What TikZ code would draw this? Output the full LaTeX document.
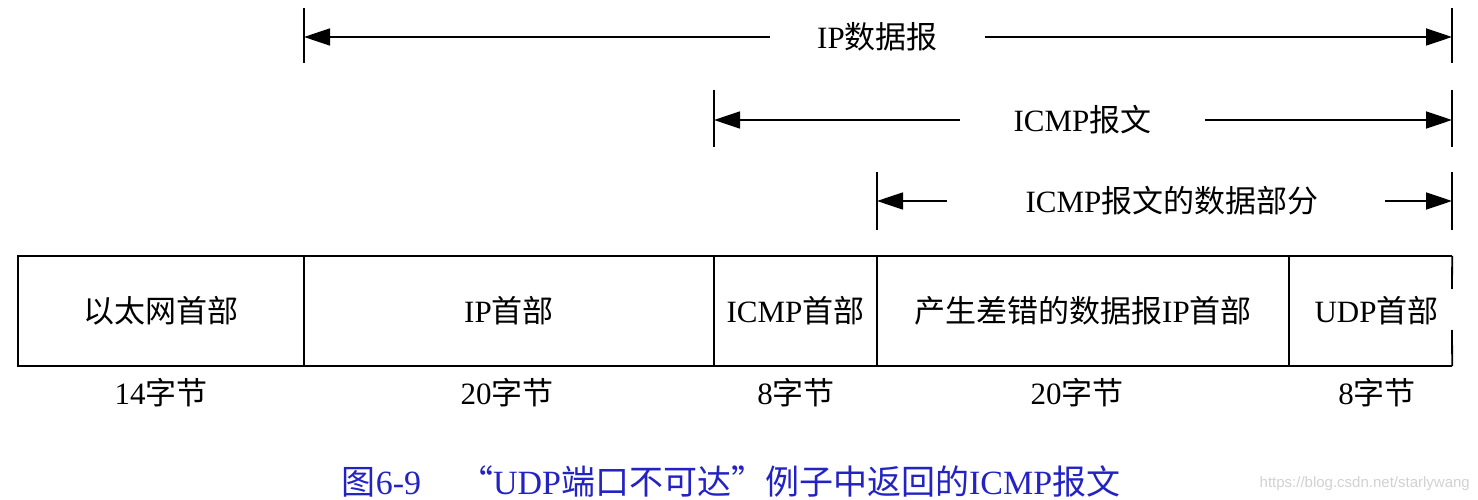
\documentclass[tikz,border=0pt]{standalone}
\usepackage{fontspec}
\setmainfont{Liberation Serif}
\newfontfamily\cjk{Noto Sans CJK SC}
\newfontfamily\wm{Liberation Sans}
\usetikzlibrary{arrows.meta}
\definecolor{capblue}{RGB}{35,35,195}
\begin{document}
\begin{tikzpicture}[x=1pt,y=-1pt,
  every node/.style={inner sep=0pt, font=\fontsize{31}{36}\selectfont},
  cell/.style={draw, line width=1.8pt, minimum height=110pt},
  tick/.style={line width=2.2pt},
  arr/.style={line width=1.8pt, -{Triangle[length=26pt,width=17pt]}},
  lab/.style={minimum height=30pt}]
\useasboundingbox (0,0) rectangle (1478,500);

% cells
\node[cell, minimum width=286pt] (c1) at (161,311) {{\cjk 以太网首部}};
\node[cell, minimum width=410pt] (c2) at (509,311) {IP{\cjk 首部}};
\node[cell, minimum width=163pt] (c3) at (795.5,311) {ICMP{\cjk 首部}};
\node[cell, minimum width=412pt] (c4) at (1083,311) {{\cjk 产生差错的数据报}IP{\cjk 首部}};
\node[minimum width=163pt, minimum height=110pt] (c5) at (1370.5,311) {\hspace{12pt}UDP{\cjk 首部}};
\draw[line width=1.8pt] (c5.north east) -- (c5.north west) -- (c5.south west) -- (c5.south east);
\coordinate (g1) at (1452,289);
\coordinate (g2) at (1452,330);
\draw[line width=1.8pt] (c5.north east) -- (g1);
\draw[line width=1.8pt] (g2) -- (c5.south east);

% byte labels
\node (b1) at (161,393) {14{\cjk 字节}};
\node (b2) at (507,393) {20{\cjk 字节}};
\node (b3) at (796,393) {8{\cjk 字节}};
\node (b4) at (1077,393) {20{\cjk 字节}};
\node (b5) at (1377,393) {8{\cjk 字节}};

% ticks
\coordinate (t1a) at (304,8);   \coordinate (t1b) at (304,63);
\coordinate (t2a) at (714,90);  \coordinate (t2b) at (714,147);
\coordinate (t3a) at (877,172); \coordinate (t3b) at (877,230);
\coordinate (r1a) at (1452,8);  \coordinate (r1b) at (1452,63);
\coordinate (r2a) at (1452,90); \coordinate (r2b) at (1452,147);
\coordinate (r3a) at (1452,172);\coordinate (r3b) at (1452,230);
\foreach \a/\b in {t1a/t1b,t2a/t2b,t3a/t3b,r1a/r1b,r2a/r2b,r3a/r3b}
  \draw[tick] (\a) -- (\b);

% arrow ends
\coordinate (e1l) at (304,37);  \coordinate (e1r) at (1452,37);
\coordinate (e2l) at (714,120); \coordinate (e2r) at (1452,120);
\coordinate (e3l) at (877,201); \coordinate (e3r) at (1452,201);

% labels
\node[lab, minimum width=215pt] (l1) at (877.5,37) {IP{\cjk 数据报}};
\node[lab, minimum width=245pt] (l2) at (1082.5,120) {ICMP{\cjk 报文}};
\node[lab, minimum width=438pt] (l3) at (1166,201) {\hspace{12pt}ICMP{\cjk 报文的数据部分}};

\draw[arr] (l1.west) -- (e1l);
\draw[arr] (l1.east) -- (e1r);
\draw[arr] (l2.west) -- (e2l);
\draw[arr] (l2.east) -- (e2r);
\draw[arr] (l3.west) -- (e3l);
\draw[arr] (l3.east) -- (e3r);

% caption
\node[text=capblue, font=\fontsize{34}{40}\selectfont] (cap) at (731,481)
  {{\cjk 图}6-9\hspace{38pt}{\cjk “}UDP{\cjk 端口不可达”例子中返回的}ICMP{\cjk 报文}};
\node[anchor=east, text=black!18, font=\wm\fontsize{15}{18}\selectfont] (wm) at (1470,484)
  {https://blog.csdn.net/starlywang};
\end{tikzpicture}
\end{document}
